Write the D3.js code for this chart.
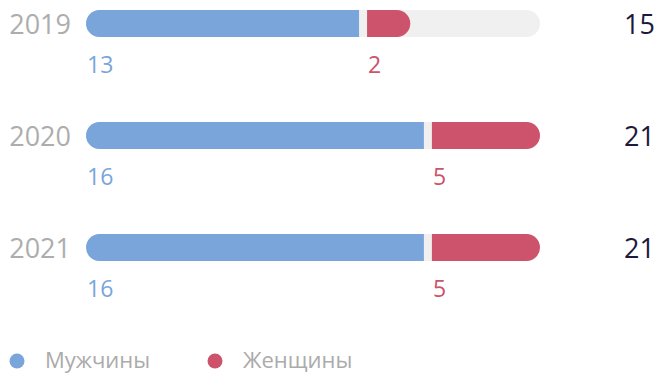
<!DOCTYPE html>
<html>
<head>
<meta charset="utf-8">
<script src="https://cdn.jsdelivr.net/npm/d3@7"></script>
<style>
  html, body { margin: 0; padding: 0; background: #fff; }
  svg { display: block; font-family: "Open Sans", "Noto Sans", sans-serif; }
</style>
</head>
<body>
<svg id="chart" width="656" height="374"></svg>
<script>
// Staff by year, split by gender
const years = ["2019", "2020", "2021"];
const men = [13, 16, 16];
const women = [2, 5, 5];
const seriesNames = ["Мужчины", "Женщины"];
const colors = ["#79a5db", "#cc536b"];

const totals = years.map((_, i) => men[i] + women[i]);
const maxTotal = d3.max(totals);

const svg = d3.select("#chart");

const x = d3.scaleLinear().domain([0, maxTotal]).range([86, 540]);

const barH = 27;
const r = barH / 2;
const gap = 8;

// Path for a bar with optional rounded left / right ends
function barPath(x0, x1, y0, h, roundL, roundR) {
  const rr = h / 2;
  const p = d3.path();
  p.moveTo(roundL ? x0 + rr : x0, y0);
  if (roundR) {
    p.lineTo(x1 - rr, y0);
    p.arc(x1 - rr, y0 + rr, rr, -Math.PI / 2, Math.PI / 2);
  } else {
    p.lineTo(x1, y0);
    p.lineTo(x1, y0 + h);
  }
  if (roundL) {
    p.lineTo(x0 + rr, y0 + h);
    p.arc(x0 + rr, y0 + rr, rr, Math.PI / 2, Math.PI * 1.5);
  } else {
    p.lineTo(x0, y0 + h);
  }
  p.closePath();
  return p.toString();
}

const rowTop = i => 10 + i * 112;

const rows = svg.selectAll("g.row").data(years).join("g").attr("class", "row");

rows.each(function(yr, i) {
  const g = d3.select(this);
  const top = rowTop(i);

  // background track
  g.append("path")
    .attr("d", barPath(x(0), x(maxTotal), top, barH, true, true))
    .attr("fill", "#f0f0f0");

  // men segment
  const split = x(men[i]);
  g.append("path")
    .attr("d", barPath(x(0), split - gap, top, barH, true, false))
    .attr("fill", colors[0]);

  // women segment
  g.append("path")
    .attr("d", barPath(split, x(totals[i]), top, barH, false, true))
    .attr("fill", colors[1]);

  // year label
  g.append("text")
    .attr("x", 71).attr("y", top + r + 1)
    .attr("dy", "0.35em")
    .attr("text-anchor", "end")
    .attr("font-size", 27)
    .attr("fill", "#adadad")
    .text(yr);

  // value labels under segments
  g.append("text")
    .attr("x", x(0) + 1).attr("y", top + 63)
    .attr("font-size", 23)
    .attr("fill", colors[0])
    .text(men[i]);
  g.append("text")
    .attr("x", split + 1).attr("y", top + 63)
    .attr("font-size", 23)
    .attr("fill", colors[1])
    .text(women[i]);

  // total
  g.append("text")
    .attr("x", 655).attr("y", top + r + 1)
    .attr("dy", "0.35em")
    .attr("text-anchor", "end")
    .attr("font-size", 27)
    .attr("font-weight", 500)
    .attr("fill", "#1c1a3c")
    .text(totals[i]);
});

// legend
const legendX = [17, 215];
const legend = svg.selectAll("g.legend").data(seriesNames).join("g")
  .attr("class", "legend")
  .attr("transform", (d, i) => `translate(${legendX[i]},361)`);
legend.append("circle").attr("r", 7.5).attr("fill", (d, i) => colors[i]);
legend.append("text")
  .attr("x", 28).attr("y", -1).attr("dy", "0.35em")
  .attr("font-size", 22)
  .attr("fill", "#ababab")
  .text(d => d);
</script>
</body>
</html>
